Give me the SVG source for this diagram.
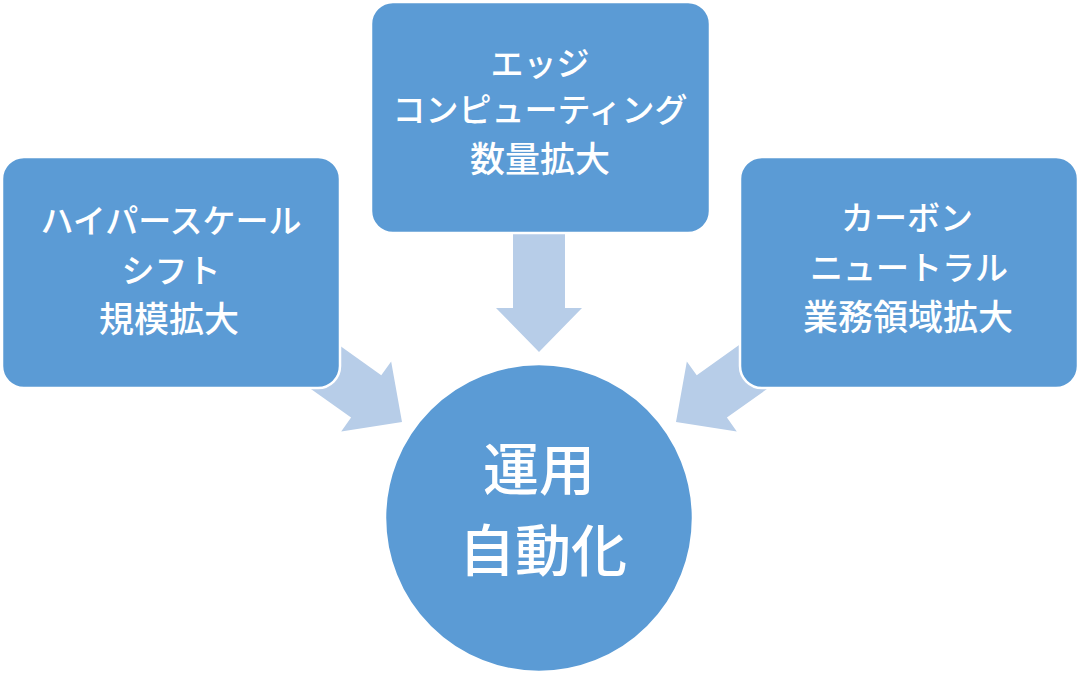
<svg xmlns="http://www.w3.org/2000/svg" width="1080" height="674" viewBox="0 0 1080 674">
<style>
.box{fill:#5B9BD5;stroke:#FFFFFF;stroke-width:2.5}
.arr{fill:#B7CDE8}
.t{font-family:"Noto Sans CJK JP","Noto Sans",sans-serif;font-size:33px;font-weight:500;fill:#FFFFFF;text-anchor:middle}
.k{font-size:35px}
.c{font-family:"Noto Sans CJK JP","Noto Sans",sans-serif;font-size:56px;font-weight:500;fill:#FFFFFF;text-anchor:middle}
</style>
<defs>
<polygon id="ar" points="-26,-118 26,-118 26,-44 43,-44 0,0 -43,-44 -26,-44"/>
</defs>
<rect width="1080" height="674" fill="#FFFFFF"/>
<g id="connectors">
<use href="#ar" class="arr" transform="translate(539,352)"/>
<use href="#ar" class="arr" transform="translate(402,422) rotate(-54.5)"/>
<use href="#ar" class="arr" transform="translate(676,422) rotate(54.5)"/>
</g>
<g id="node-left">
<rect class="box" x="2" y="157" width="338" height="231" rx="22"/>
<text class="t" x="171" y="233">ハイパースケール</text>
<text class="t" x="171" y="283">シフト</text>
<text class="t k" x="169" y="332">規模拡大</text>
</g>
<g id="node-top">
<rect class="box" x="371" y="2" width="339" height="231" rx="22"/>
<text class="t" x="540" y="76">エッジ</text>
<text class="t" x="540" y="122">コンピューティング</text>
<text class="t k" x="540" y="172">数量拡大</text>
</g>
<g id="node-right">
<rect class="box" x="740" y="157" width="338" height="231" rx="22"/>
<text class="t" x="907" y="230">カーボン</text>
<text class="t" x="909" y="280">ニュートラル</text>
<text class="t k" x="908" y="330">業務領域拡大</text>
</g>
<g id="node-center">
<circle class="box" cx="539" cy="518" r="154"/>
<text class="c" x="539" y="490">運用</text>
<text class="c" x="543" y="571">自動化</text>
</g>
</svg>
